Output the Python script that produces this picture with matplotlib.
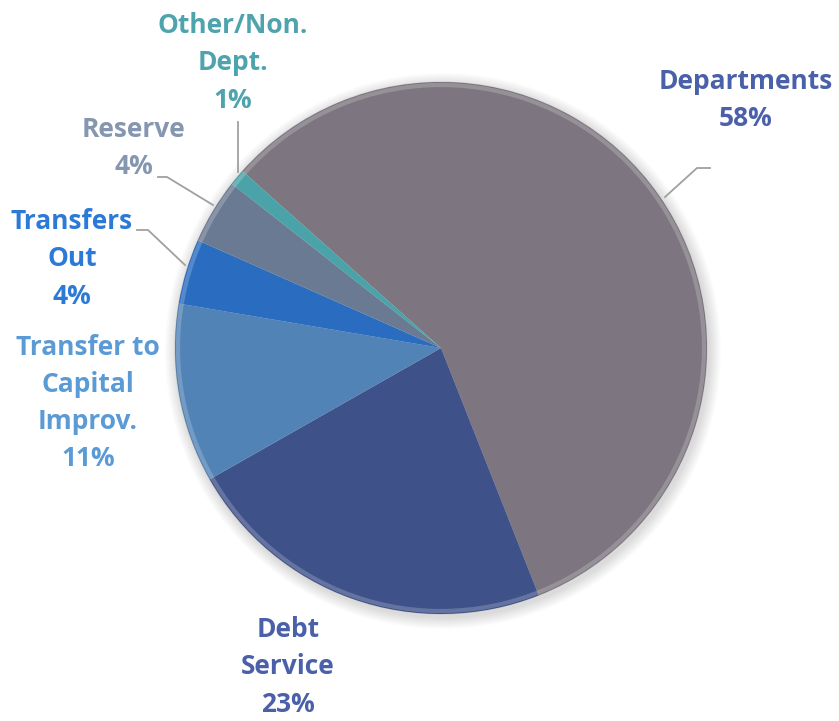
import matplotlib.pyplot as plt
from matplotlib.patches import Circle

# Budget share by category
categories = ['Departments', 'Debt\nService', 'Transfer to\nCapital\nImprov.',
              'Transfers\nOut', 'Reserve', 'Other/Non.\nDept.']
shares = [58, 23, 11, 4, 4, 1]

wedge_colors = ['#7d757f', '#3e5189', '#5283b6', '#2a6cc0', '#6b7a93', '#4aa3a8']
label_colors = ['#4a60a8', '#4a60a8', '#5b9bd5', '#2b7ad8', '#8496b0', '#4ea3ad']

W, H = 839, 721
cx, cy, r = 441, H - 348, 266

fig = plt.figure(figsize=(W / 100, H / 100), dpi=100)
ax = fig.add_axes([0, 0, 1, 1])
ax.set_xlim(0, W)
ax.set_ylim(0, H)
ax.set_aspect('equal')
ax.axis('off')

# soft drop shadow under the pie
for i in range(12):
    ax.add_patch(Circle((cx + 2, cy - 3), r + 12 - i, color='#000000',
                        alpha=0.010, lw=0, zorder=0))

wedges, _ = ax.pie(shares, colors=wedge_colors, startangle=138.3,
                   counterclock=False, center=(cx, cy), radius=r,
                   wedgeprops=dict(linewidth=0))
for w in wedges:
    w.set_zorder(2)
ax.set_xlim(0, W)
ax.set_ylim(0, H)

# light bevel on the rim
ax.add_patch(Circle((cx, cy), r - 3, fill=False, ec='white', lw=3,
                    alpha=0.2, zorder=3))
ax.add_patch(Circle((cx, cy), r, fill=False, ec='#333333', lw=0.8,
                    alpha=0.12, zorder=3))

font = dict(family=['Open Sans', 'DejaVu Sans'], fontweight='bold',
            fontsize=19, ha='center', va='center', linespacing=1.48)

# label positions (x, y of block center) and leader lines in pixel space
label_pos = [(746, 100), (288, 667), (88, 403), (72, 259), (134, 148), (233, 63)]
leaders = [
    [(665, 197), (697, 168), (710, 168)],
    None,
    None,
    [(185, 265), (148, 230), (137, 230)],
    [(213, 205), (167, 177), (158, 177)],
    [(238, 172), (238, 122)],
]

for cat, val, col, (lx, ly) in zip(categories, shares, label_colors, label_pos):
    ax.text(lx, H - ly, f'{cat}\n{val}%', color=col, **font)

for pts in leaders:
    if pts is None:
        continue
    xs = [p[0] for p in pts]
    ys = [H - p[1] for p in pts]
    ax.plot(xs, ys, color='#a0a0a0', lw=1.3, zorder=4)

fig.savefig('out.png', dpi=100, facecolor='white')
